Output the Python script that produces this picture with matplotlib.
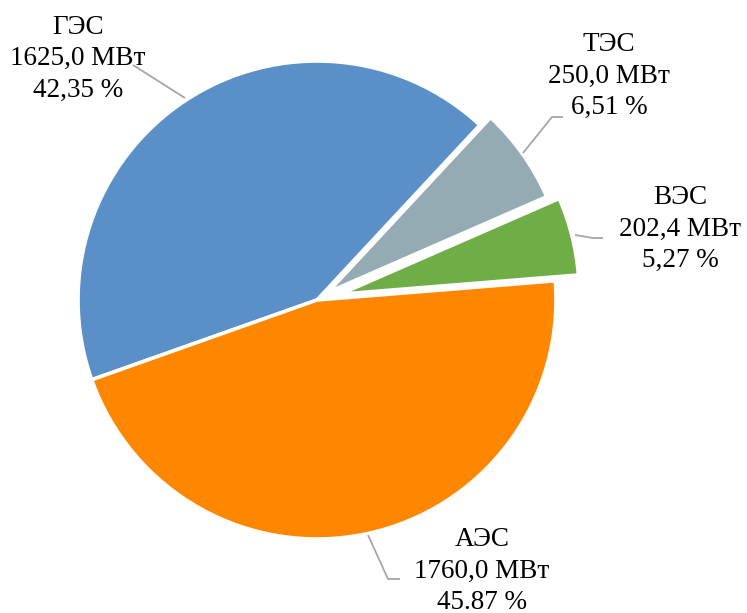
import matplotlib
matplotlib.use('Agg')
import matplotlib.pyplot as plt

# data
names = ['ГЭС', 'ТЭС', 'ВЭС', 'АЭС']
power = [1625.0, 250.0, 202.4, 1760.0]
power_txt = ['1625,0 МВт', '250,0 МВт', '202,4 МВт', '1760,0 МВт']
share_txt = ['42,35 %', '6,51 %', '5,27 %', '45.87 %']
colors = ['#5A8FC8', '#94ABB4', '#6FAD47', '#FF8700']
explode = [0, 0.055, 0.1, 0]

plt.rcParams['font.family'] = ['Liberation Serif', 'DejaVu Serif']

fig = plt.figure(figsize=(7.47, 6.13), dpi=100)
ax = fig.add_axes([0, 0, 1, 1])

# pie center sits at pixel (317, 300), radius 239 px
cx, cy, rpx = 317, 300, 239
def px(x, y):
    return ((x - cx) / rpx, (cy - y) / rpx)

ax.pie(power, colors=colors, explode=explode, startangle=199.5,
       counterclock=False, radius=1,
       wedgeprops=dict(edgecolor='white', linewidth=2.6))

ax.set_xlim(-cx / rpx, (747 - cx) / rpx)
ax.set_ylim(-(613 - cy) / rpx, cy / rpx)
ax.set_aspect('equal')
ax.axis('off')

# label centres and leader lines (pixel positions)
label_pos = [(78, 58.5), (609, 76), (680, 229), (482, 571)]
leaders = [
    [(133, 65), (185, 98)],
    [(563, 117), (552, 117), (523, 153)],
    [(603, 238), (593, 238), (575, 235)],
    [(400, 579), (388, 579), (368, 535)],
]

for i in range(len(names)):
    x, y = px(*label_pos[i])
    ax.text(x, y, names[i] + '\n' + power_txt[i] + '\n' + share_txt[i],
            ha='center', va='center', multialignment='center',
            fontsize=19.5, linespacing=1.34, color='black')
    pts = [px(a, b) for a, b in leaders[i]]
    ax.plot([p[0] for p in pts], [p[1] for p in pts], color='#A6A6A6',
            linewidth=1.3, solid_capstyle='butt')

fig.savefig('out.png', dpi=100)
